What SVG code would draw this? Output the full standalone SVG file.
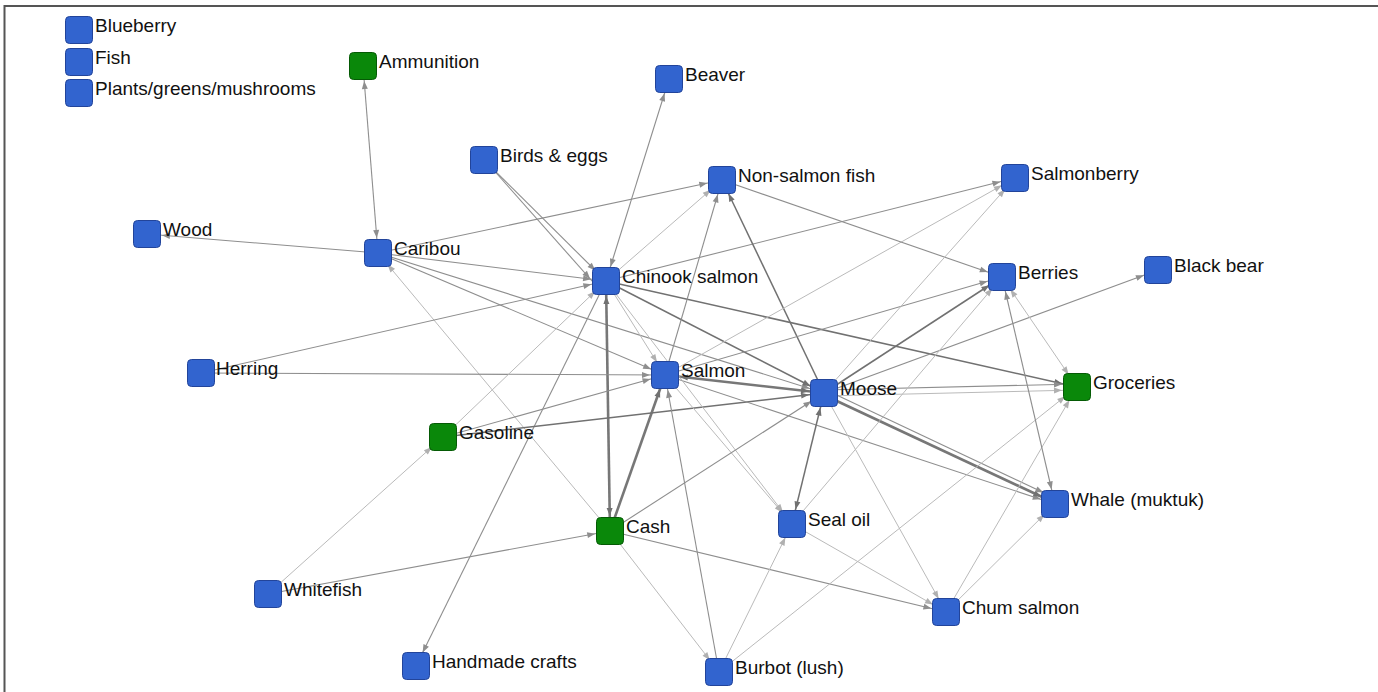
<svg xmlns="http://www.w3.org/2000/svg" width="1378" height="692" viewBox="0 0 1378 692">
<style>
.e{stroke:#8e8e8e;stroke-width:1.1;fill:none}
.d{stroke:#717171;stroke-width:1.5;fill:none}
.t{stroke:#777;stroke-width:2.6;fill:none}
.l{stroke:#bababa;stroke-width:1;fill:none}
.b{fill:#3264cf;stroke:#22449a;stroke-width:1}
.g{fill:#0a880a;stroke:#055a05;stroke-width:1}
text{font-family:"Liberation Sans",Arial,sans-serif;font-size:19px;fill:#111}
</style>
<defs>
<marker id="ae" markerUnits="userSpaceOnUse" markerWidth="8" markerHeight="6" refX="23" refY="3" orient="auto-start-reverse" overflow="visible"><path d="M0,0 L8,3 L0,6 z" fill="#8e8e8e"/></marker>
<marker id="ad" markerUnits="userSpaceOnUse" markerWidth="8" markerHeight="6" refX="23" refY="3" orient="auto-start-reverse" overflow="visible"><path d="M0,0 L8,3 L0,6 z" fill="#717171"/></marker>
<marker id="al" markerUnits="userSpaceOnUse" markerWidth="8" markerHeight="6" refX="23" refY="3" orient="auto-start-reverse" overflow="visible"><path d="M0,0 L8,3 L0,6 z" fill="#b0b0b0"/></marker>
</defs>
<rect width="1378" height="692" fill="#fff"/>
<path d="M4.5,692 V6 H1378" fill="none" stroke="#555" stroke-width="2"/>
<g id="connectors">
<line class="e" x1="378" y1="253" x2="363" y2="66" marker-start="url(#ae)" marker-end="url(#ae)"/>
<line class="e" x1="378" y1="253" x2="147" y2="234" marker-end="url(#ae)"/>
<line class="e" x1="378" y1="253" x2="722" y2="180" marker-end="url(#ae)"/>
<line class="e" x1="378" y1="253" x2="606" y2="281" marker-end="url(#ae)"/>
<line class="e" x1="378" y1="253" x2="824" y2="393" marker-end="url(#ae)"/>
<line class="e" x1="378" y1="253" x2="665" y2="375" marker-end="url(#ae)"/>
<line class="l" x1="610" y1="531" x2="378" y2="253" marker-end="url(#al)"/>
<line class="e" x1="606" y1="281" x2="669" y2="79" marker-start="url(#ae)" marker-end="url(#ae)"/>
<line class="e" x1="484" y1="160" x2="606" y2="281" marker-end="url(#ae)"/>
<line class="e" x1="490" y1="166" x2="600" y2="290" marker-end="url(#ae)"/>
<line class="l" x1="606" y1="281" x2="722" y2="180" marker-end="url(#al)"/>
<line class="e" x1="606" y1="281" x2="1015" y2="178" marker-end="url(#ae)"/>
<line class="d" x1="606" y1="281" x2="1077" y2="387" marker-end="url(#ad)"/>
<line class="d" x1="606" y1="281" x2="824" y2="393" marker-end="url(#ad)"/>
<line class="l" x1="606" y1="281" x2="665" y2="375" marker-end="url(#al)"/>
<line class="t" x1="606" y1="281" x2="610" y2="531" marker-start="url(#ad)" marker-end="url(#ad)"/>
<line class="t" x1="610" y1="531" x2="665" y2="375" marker-end="url(#ad)"/>
<line class="e" x1="606" y1="281" x2="416" y2="666" marker-end="url(#ae)"/>
<line class="e" x1="201" y1="373" x2="665" y2="375" marker-end="url(#ae)"/>
<line class="e" x1="201" y1="373" x2="606" y2="281" marker-end="url(#ae)"/>
<line class="l" x1="268" y1="594" x2="443" y2="437" marker-end="url(#al)"/>
<line class="l" x1="443" y1="437" x2="606" y2="281" marker-end="url(#al)"/>
<line class="e" x1="443" y1="437" x2="665" y2="375" marker-end="url(#ae)"/>
<line class="d" x1="443" y1="437" x2="824" y2="393" marker-end="url(#ad)"/>
<line class="e" x1="268" y1="594" x2="610" y2="531" marker-end="url(#ae)"/>
<line class="e" x1="665" y1="375" x2="722" y2="180" marker-end="url(#ae)"/>
<line class="d" x1="824" y1="393" x2="722" y2="180" marker-end="url(#ad)"/>
<line class="t" x1="665" y1="375" x2="824" y2="393" marker-start="url(#ad)" marker-end="url(#ad)"/>
<line class="l" x1="665" y1="375" x2="1015" y2="178" marker-end="url(#al)"/>
<line class="e" x1="665" y1="375" x2="1002" y2="277" marker-end="url(#ae)"/>
<line class="e" x1="665" y1="375" x2="1055" y2="504" marker-end="url(#ae)"/>
<line class="e" x1="719" y1="672" x2="665" y2="375" marker-end="url(#ae)"/>
<line class="l" x1="665" y1="375" x2="792" y2="524" marker-end="url(#al)"/>
<line class="l" x1="606" y1="281" x2="792" y2="524" marker-end="url(#al)"/>
<line class="e" x1="722" y1="180" x2="1002" y2="277" marker-end="url(#ae)"/>
<line class="d" x1="824" y1="393" x2="1002" y2="277" marker-end="url(#ad)"/>
<line class="l" x1="824" y1="393" x2="1015" y2="178" marker-end="url(#al)"/>
<line class="e" x1="824" y1="393" x2="1158" y2="270" marker-end="url(#ae)"/>
<line class="e" x1="824" y1="390" x2="1077" y2="384" marker-end="url(#ae)"/>
<line class="l" x1="824" y1="396" x2="1077" y2="390" marker-end="url(#al)"/>
<line class="t" x1="824" y1="395" x2="1055" y2="503" marker-end="url(#ad)"/>
<line class="e" x1="826" y1="390" x2="1057" y2="499" marker-end="url(#ae)"/>
<line class="d" x1="824" y1="393" x2="792" y2="524" marker-start="url(#ad)" marker-end="url(#ad)"/>
<line class="l" x1="824" y1="393" x2="946" y2="612" marker-end="url(#al)"/>
<line class="e" x1="610" y1="531" x2="824" y2="393" marker-end="url(#ae)"/>
<line class="e" x1="610" y1="531" x2="946" y2="612" marker-end="url(#ae)"/>
<line class="l" x1="610" y1="531" x2="719" y2="672" marker-end="url(#al)"/>
<line class="l" x1="719" y1="672" x2="792" y2="524" marker-end="url(#al)"/>
<line class="l" x1="719" y1="672" x2="1077" y2="387" marker-end="url(#al)"/>
<line class="l" x1="946" y1="612" x2="1077" y2="387" marker-end="url(#al)"/>
<line class="l" x1="946" y1="612" x2="1055" y2="504" marker-end="url(#al)"/>
<line class="l" x1="792" y1="524" x2="946" y2="612" marker-end="url(#al)"/>
<line class="l" x1="792" y1="524" x2="1002" y2="277" marker-end="url(#al)"/>
<line class="l" x1="1002" y1="277" x2="1077" y2="387" marker-start="url(#al)" marker-end="url(#al)"/>
<line class="e" x1="1002" y1="277" x2="1055" y2="504" marker-start="url(#ae)" marker-end="url(#ae)"/>
</g>
<g id="node-blueberry"><rect class="b" x="65.5" y="16.5" width="27" height="27" rx="4"/><text x="95" y="32">Blueberry</text></g>
<g id="node-fish"><rect class="b" x="65.5" y="48.5" width="27" height="27" rx="4"/><text x="95" y="64">Fish</text></g>
<g id="node-plants"><rect class="b" x="65.5" y="79.5" width="27" height="27" rx="4"/><text x="95" y="95">Plants/greens/mushrooms</text></g>
<g id="node-ammunition"><rect class="g" x="349.5" y="52.5" width="27" height="27" rx="4"/><text x="379" y="68">Ammunition</text></g>
<g id="node-beaver"><rect class="b" x="655.5" y="65.5" width="27" height="27" rx="4"/><text x="685" y="81">Beaver</text></g>
<g id="node-birds"><rect class="b" x="470.5" y="146.5" width="27" height="27" rx="4"/><text x="500" y="162">Birds &amp; eggs</text></g>
<g id="node-nonsalmon"><rect class="b" x="708.5" y="166.5" width="27" height="27" rx="4"/><text x="738" y="182">Non-salmon fish</text></g>
<g id="node-salmonberry"><rect class="b" x="1001.5" y="164.5" width="27" height="27" rx="4"/><text x="1031" y="180">Salmonberry</text></g>
<g id="node-wood"><rect class="b" x="133.5" y="220.5" width="27" height="27" rx="4"/><text x="163" y="236">Wood</text></g>
<g id="node-caribou"><rect class="b" x="364.5" y="239.5" width="27" height="27" rx="4"/><text x="394" y="255">Caribou</text></g>
<g id="node-chinook"><rect class="b" x="592.5" y="267.5" width="27" height="27" rx="4"/><text x="622" y="283">Chinook salmon</text></g>
<g id="node-berries"><rect class="b" x="988.5" y="263.5" width="27" height="27" rx="4"/><text x="1018" y="279">Berries</text></g>
<g id="node-blackbear"><rect class="b" x="1144.5" y="256.5" width="27" height="27" rx="4"/><text x="1174" y="272">Black bear</text></g>
<g id="node-herring"><rect class="b" x="187.5" y="359.5" width="27" height="27" rx="4"/><text x="216" y="375">Herring</text></g>
<g id="node-salmon"><rect class="b" x="651.5" y="361.5" width="27" height="27" rx="4"/><text x="681" y="377">Salmon</text></g>
<g id="node-moose"><rect class="b" x="810.5" y="379.5" width="27" height="27" rx="4"/><text x="840" y="395">Moose</text></g>
<g id="node-groceries"><rect class="g" x="1063.5" y="373.5" width="27" height="27" rx="4"/><text x="1093" y="389">Groceries</text></g>
<g id="node-gasoline"><rect class="g" x="429.5" y="423.5" width="27" height="27" rx="4"/><text x="459" y="439">Gasoline</text></g>
<g id="node-whale"><rect class="b" x="1041.5" y="490.5" width="27" height="27" rx="4"/><text x="1071" y="506">Whale (muktuk)</text></g>
<g id="node-cash"><rect class="g" x="596.5" y="517.5" width="27" height="27" rx="4"/><text x="626" y="533">Cash</text></g>
<g id="node-sealoil"><rect class="b" x="778.5" y="510.5" width="27" height="27" rx="4"/><text x="808" y="526">Seal oil</text></g>
<g id="node-whitefish"><rect class="b" x="254.5" y="580.5" width="27" height="27" rx="4"/><text x="284" y="596">Whitefish</text></g>
<g id="node-chum"><rect class="b" x="932.5" y="598.5" width="27" height="27" rx="4"/><text x="962" y="614">Chum salmon</text></g>
<g id="node-handmade"><rect class="b" x="402.5" y="652.5" width="27" height="27" rx="4"/><text x="432" y="668">Handmade crafts</text></g>
<g id="node-burbot"><rect class="b" x="705.5" y="658.5" width="27" height="27" rx="4"/><text x="735" y="674">Burbot (lush)</text></g>
</svg>
